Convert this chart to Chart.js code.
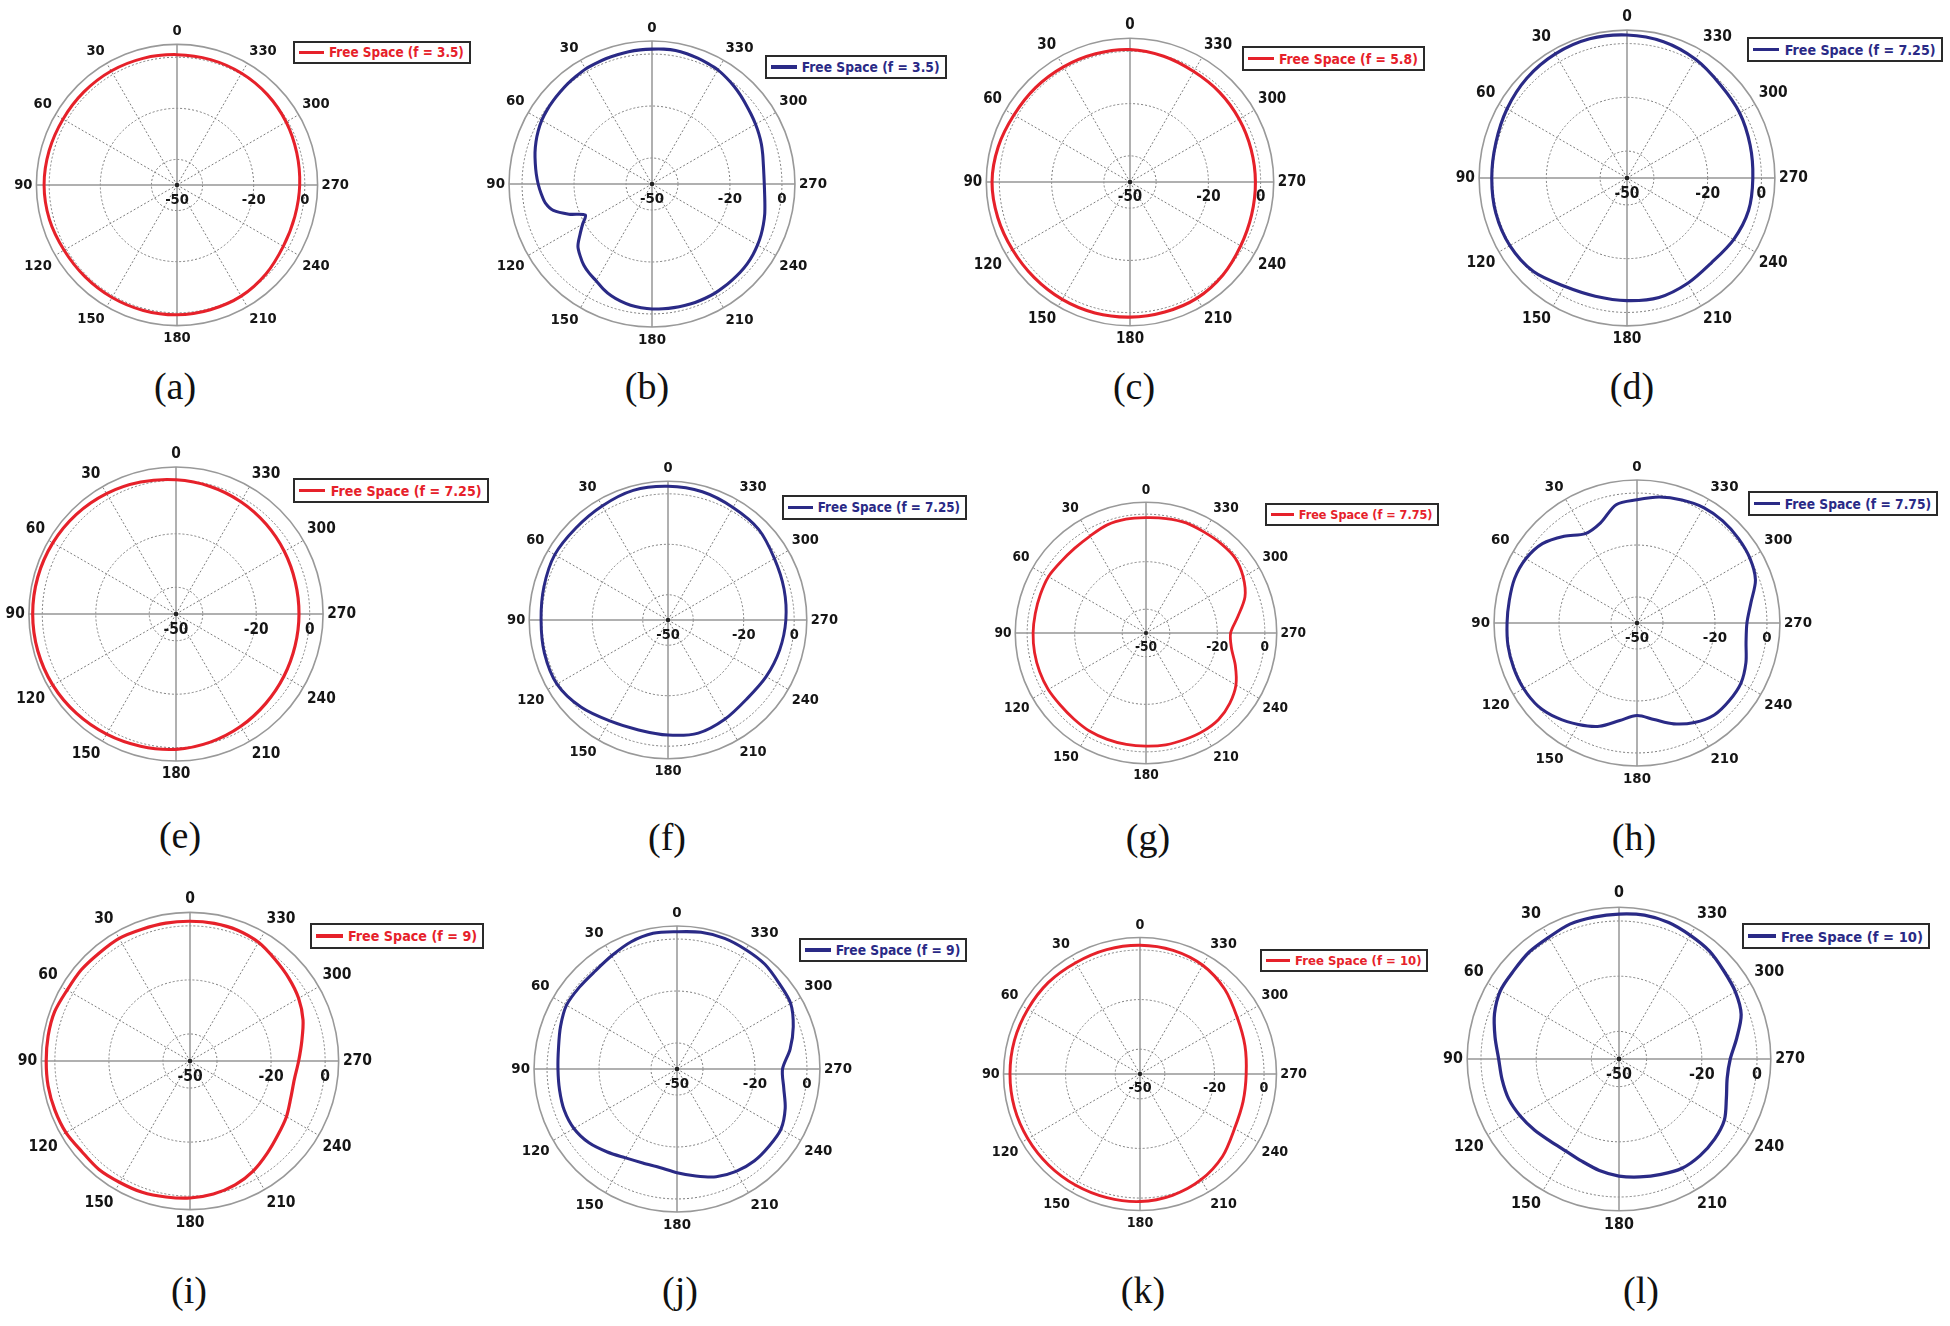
<!DOCTYPE html>
<html>
<head>
<meta charset="utf-8">
<script src="https://cdn.jsdelivr.net/npm/chart.js@4.4.1/dist/chart.umd.min.js"></script>
<style>
  html, body { margin: 0; padding: 0; background: #fff; }
  #page { position: relative; width: 1950px; height: 1326px; overflow: hidden; background: #fff; }
  .plot { position: absolute; }
  .plot canvas { display: block; }
  .legend {
    position: absolute; display: flex; align-items: center; box-sizing: border-box;
    border: 2px solid #2a2a2a; background: #fff; white-space: nowrap;
    font-family: "DejaVu Sans Condensed", "DejaVu Sans", sans-serif; font-weight: bold;
  }
  .legend .swatch { display: inline-block; }
  .caption {
    position: absolute; transform: translateX(-50%); line-height: 1;
    font-family: "Liberation Serif", "Times New Roman", serif; font-size: 38px; color: #111;
  }
</style>
</head>
<body>
<div id="page"></div>
<script>
// === DATA ===
// angles are counter-clockwise from the top (0 up, 90 left, 180 down, 270 right)
const angles15 = [0, 15, 30, 45, 60, 75, 90, 105, 120, 135, 150, 165, 180, 195, 210, 225, 240, 255, 270, 285, 300, 315, 330, 345];
const angles10 = [0, 10, 20, 30, 40, 50, 60, 70, 80, 90, 100, 110, 120, 130, 140, 150, 160, 170,
                  180, 190, 200, 210, 220, 230, 240, 250, 260, 270, 280, 290, 300, 310, 320, 330, 340, 350];
const angles5 = [0, 5, 10, 15, 20, 25, 30, 35, 40, 45, 50, 55, 60, 65, 70, 75, 80, 85, 90, 95, 100, 105, 110, 115,
                 120, 125, 130, 135, 140, 145, 150, 155, 160, 165, 170, 175, 180, 185, 190, 195, 200, 205, 210, 215,
                 220, 225, 230, 235, 240, 245, 250, 255, 260, 265, 270, 275, 280, 285, 290, 295, 300, 305, 310, 315,
                 320, 325, 330, 335, 340, 345, 350, 355];

// radial scale (dB) and the rings / labels drawn on it
const ringValues = [-50, -40, -20, 0, 5];
const dbLabels = [-50, -20, 0];

// gain in dB
const gainA = [1, 1.3, 1.5, 1.5, 1.5, 1.8, 2, 1.7, 1, 0.8, 0.8, 0.8, 0.8, 0.5, 0.2, -0.8, -2, -2.3, -2, -1.5, -0.7, 0, 0.5, 0.8];
const gainB = [1.9, 1.8, 1.7, 1.5, 1.4, 1.2, 1.1, 0.7, 0.4, 0, -0.3, -0.6, -1, -1.7, -2.5, -3.4, -4.4, -5.3, -6.2, -7.2,
               -8.3, -10.7, -16, -21.7, -19.2, -16.2, -12.8, -10.9, -9.2, -8, -7, -5.5, -4.2, -3.3, -2.6, -2.2, -1.9, -1.8, -1.7, -1.6,
               -1.5, -1.5, -1.5, -1.7, -1.9, -2, -2.2, -2.6, -3.1, -3.7, -4.4, -5.1, -5.9, -6.5, -6.8, -6.8, -6.5, -5.9, -5.2, -4.6,
               -4, -3.4, -2.7, -1.8, -0.9, -0.1, 0.7, 1.1, 1.5, 1.9, 2.2, 2.1];
const gainC = [0.7, 0.8, 0.9, 1.1, 1.3, 2.2, 2.8, 2.4, 1.9, 1.8, 1.9, 1.9, 1.7, 1.5, 1.3, 0.3, -1.1, -1.8, -2, -2, -1.8, -1.5, -1.2, -0.2];
const gainD = [3.2, 3.6, 3.3, 2.6, 1.5, 0.5, 0.3, 0.5, 0.3, -0.8, -3.5, -4.5, -4.4, -4, -4.8, -5.5, -4.2, -3.2, -3.2, -2.6, -1.6, -0.9, 1, 2.5];
const gainE = [0.2, 1.1, 2, 2.7, 3.2, 3.5, 3.6, 3.5, 3.2, 2.6, 1.9, 1.2, 0.6, -0.4, -1.5, -2.6, -3.4, -3.9, -4, -3.8, -3.2, -2.4, -1.5, -0.6];
const gainF = [3, 3.2, 2.2, 1.6, 1.8, 0.9, 0.3, 0.7, 0.8, -1.2, -3.8, -4.9, -4.4, -3.6, -4.7, -5.8, -5.1, -4.2, -3.3, -2.4, -1.3, 0.8, 1.5, 2.6];
const gainG = [-1.5, -1.4, -1.7, -2.9, -3.4, -3.3, -2.6, -2.7, -2.7, -2.5, -2.4, -2.4, -2.5, -2.9, -2.8, -2.4, -2.4, -2.4,
               -2.4, -2.2, -2.3, -2.2, -2.5, -4, -6.3, -10, -13.5, -14.4, -10.8, -5.7, -2.8, -1, -0.9, -1, -0.7, -1.1];
const gainH = [-2.6, -3.8, -9, -10.3, -6.4, -2.5, -0.6, 0.1, -0.1, 0, 0.4, 0.5, 0.4, -0.3, -2.3, -4.9, -7.7, -11.9,
               -14.4, -12.3, -8.7, -5.8, -3.8, -3.6, -3.8, -5.4, -7.4, -7.7, -5.5, -1.5, 0.1, 0.8, 1.3, 1.3, 0.4, -0.8];
const gainI = [1.7, 1.8, 1.9, 2.4, 2.2, 2.5, 2.5, 3.3, 3.3, 3.2, 3.3, 3.2, 3, 2.2, 2.4, 1.9, 1.7, 1.1,
               0.7, 0, -1.2, -3.1, -5.5, -7.5, -8.8, -10.3, -10.8, -9.8, -8, -5.5, -3.6, -2.3, -1, 0.7, 1.5, 1.7];
const gainJ = [2.8, 3, 2, 0.3, -0.9, -1, -0.9, -2.3, -3.7, -4.2, -4.1, -3.8, -4.2, -5.8, -8.3, -10.5, -11.5, -11.5,
               -10.1, -8.2, -5.9, -4.5, -3.8, -3.8, -3.8, -5.7, -8.3, -9.4, -5.8, -2.4, 0.5, 1.3, 2.6, 3, 3.5, 3.4];
const gainK = [1.9, 1.9, 1.8, 2.2, 2.2, 2.4, 2.4, 2.4, 2.2, 2, 1.8, 1.6, 1.4, 0.6, -0.8, -3, -6, -7, -7.2, -6.2, -4.7, -1.7, 0.6, 1.6];
const gainL = [2.5, 2.2, 2, 0.9, 0.6, -0.2, -0.4, -2, -4.4, -6.4, -7, -7.5, -8.7, -10, -11.2, -11.5, -10.6, -9,
               -7.6, -6.6, -5.5, -4.3, -4.3, -4.8, -5.9, -8.6, -10.2, -9.7, -6.7, -2.9, -1.3, -0.4, 1, 1.7, 2.6, 2.9];

const RED = '#e6212a';
const BLUE = '#2a2a86';
const FONT = '"DejaVu Sans Condensed", "DejaVu Sans", sans-serif';
const MAIN_AXES = ['0', '90', '180', '270'];

// === LAYOUT (centre, outer radius, legend box, caption) ===
const panels = [
  { tag: '(a)', angles: angles15, gain: gainA, color: RED,  f: '3.5',  cx: 176.7,  cy: 185,    R: 140,   leg: [293, 41, 23],   cap: [175, 390] },
  { tag: '(b)', angles: angles5,  gain: gainB, color: BLUE, f: '3.5',  cx: 651.7,  cy: 184.3,  R: 143,   leg: [765, 55, 24],   cap: [647, 390] },
  { tag: '(c)', angles: angles15, gain: gainC, color: RED,  f: '5.8',  cx: 1130.3, cy: 182,    R: 144,   leg: [1242, 46, 25],  cap: [1134, 390] },
  { tag: '(d)', angles: angles15, gain: gainD, color: BLUE, f: '7.25', cx: 1627.3, cy: 177.7,  R: 147.5, leg: [1747, 37, 25],  cap: [1632, 390] },
  { tag: '(e)', angles: angles15, gain: gainE, color: RED,  f: '7.25', cx: 176,    cy: 614,    R: 147,   leg: [293, 478, 25],  cap: [180, 839] },
  { tag: '(f)', angles: angles15, gain: gainF, color: BLUE, f: '7.25', cx: 667.7,  cy: 620,    R: 139,   leg: [782, 495, 25],  cap: [667, 841] },
  { tag: '(g)', angles: angles10, gain: gainG, color: RED,  f: '7.75', cx: 1145.7, cy: 632.7,  R: 130.8, leg: [1265, 503, 23], cap: [1148, 841] },
  { tag: '(h)', angles: angles10, gain: gainH, color: BLUE, f: '7.75', cx: 1636.7, cy: 622.7,  R: 143,   leg: [1748, 491, 25], cap: [1634, 841] },
  { tag: '(i)', angles: angles10, gain: gainI, color: RED,  f: '9',    cx: 190,    cy: 1061,   R: 148.3, leg: [310, 923, 26],  cap: [189, 1294] },
  { tag: '(j)', angles: angles10, gain: gainJ, color: BLUE, f: '9',    cx: 676.7,  cy: 1069,   R: 143,   leg: [799, 938, 24],  cap: [680, 1294] },
  { tag: '(k)', angles: angles15, gain: gainK, color: RED,  f: '10',   cx: 1140,   cy: 1073.7, R: 136.3, leg: [1260, 949, 23], cap: [1143, 1294] },
  { tag: '(l)', angles: angles10, gain: gainL, color: BLUE, f: '10',   cx: 1619,   cy: 1058.7, R: 152.3, leg: [1742, 923, 26], cap: [1641, 1294] }
];

// dB labels along the 270 axis and the centre dot
const radialText = {
  id: 'radialText',
  beforeDatasetsDraw(chart, args, opts) {
    const s = chart.scales.r;
    const ctx = chart.ctx;
    const k = opts.k || 1;
    ctx.save();
    ctx.font = 'bold ' + (14.6 * k).toFixed(1) + 'px ' + FONT;
    ctx.fillStyle = '#151515';
    ctx.textAlign = 'center';
    ctx.textBaseline = 'middle';
    dbLabels.forEach(v => {
      ctx.fillText(String(v), s.xCenter + s.getDistanceFromCenterForValue(v), s.yCenter + 15 * k);
    });
    ctx.beginPath();
    ctx.arc(s.xCenter, s.yCenter, 2.2 * k, 0, Math.PI * 2);
    ctx.fillStyle = '#222';
    ctx.fill();
    ctx.restore();
  }
};

function buildConfig(p, k) {
  const n = p.angles.length;
  // radar goes clockwise, the plot counts counter-clockwise
  const labels = p.angles.map((a, i) => p.angles[(n - i) % n]);
  const values = p.gain.map((g, i) => p.gain[(n - i) % n]);
  const isOuter = c => c.tick && c.tick.value === 5;
  return {
    type: 'radar',
    data: {
      labels: labels,
      datasets: [{
        label: 'Free Space (f = ' + p.f + ')',
        data: values,
        borderColor: p.color,
        borderWidth: 3 * k,
        pointRadius: 0,
        fill: false,
        tension: 0.3
      }]
    },
    options: {
      responsive: false,
      animation: false,
      events: [],
      layout: { padding: 0 },
      plugins: { legend: { display: false }, tooltip: { enabled: false }, radialText: { k: k } },
      scales: {
        r: {
          min: -50,
          max: 5,
          afterBuildTicks: s => { s.ticks = ringValues.map(v => ({ value: v })); },
          ticks: { display: false },
          grid: {
            circular: true,
            color: c => isOuter(c) ? '#999' : '#7d7d7d',
            lineWidth: c => isOuter(c) ? 1.6 : 1,
            borderDash: c => isOuter(c) ? [] : [2, 2]
          },
          border: { dash: c => isOuter(c) ? [] : [2, 2] },
          angleLines: {
            color: c => MAIN_AXES.includes(c.label) ? '#969696' : '#7d7d7d',
            lineWidth: c => c.label === '' ? 0 : (MAIN_AXES.includes(c.label) ? 1.5 : 1),
            borderDash: c => MAIN_AXES.includes(c.label) ? [] : [2, 2]
          },
          pointLabels: {
            callback: v => (v % 30 === 0 ? String(v) : ''),
            font: { family: FONT, size: +(14.6 * k).toFixed(1), weight: 'bold' },
            color: '#151515',
            padding: 4 * k
          }
        }
      }
    },
    plugins: [radialText]
  };
}

const page = document.getElementById('page');

function placePanel(p) {
  const k = p.R / 140;
  const box = document.createElement('div');
  box.className = 'plot';
  page.appendChild(box);

  // size the canvas so the scale's outer ring gets radius R
  let size = Math.round(2 * p.R + 90 * k);
  let chart = null;
  for (let t = 0; t < 3; t++) {
    if (chart) { chart.destroy(); box.innerHTML = ''; }
    const canvas = document.createElement('canvas');
    canvas.width = size;
    canvas.height = size;
    box.appendChild(canvas);
    chart = new Chart(canvas, buildConfig(p, k));
    const diff = p.R - chart.scales.r.drawingArea;
    if (Math.abs(diff) < 0.75) break;
    size = Math.round(size + 2 * diff);
  }
  const s = chart.scales.r;
  box.style.left = (p.cx - s.xCenter) + 'px';
  box.style.top = (p.cy - s.yCenter) + 'px';

  // legend box
  const leg = document.createElement('div');
  leg.className = 'legend';
  leg.style.left = p.leg[0] + 'px';
  leg.style.top = p.leg[1] + 'px';
  leg.style.height = p.leg[2] + 'px';
  leg.style.padding = '0 ' + (5 * k).toFixed(1) + 'px 0 ' + (4 * k).toFixed(1) + 'px';
  leg.style.fontSize = (13.4 * k).toFixed(1) + 'px';
  leg.style.color = p.color;
  const sw = document.createElement('span');
  sw.className = 'swatch';
  sw.style.width = (25 * k).toFixed(1) + 'px';
  sw.style.height = (3.2 * k).toFixed(1) + 'px';
  sw.style.background = p.color;
  sw.style.marginRight = (5 * k).toFixed(1) + 'px';
  const txt = document.createElement('span');
  txt.textContent = chart.data.datasets[0].label;
  leg.appendChild(sw);
  leg.appendChild(txt);
  page.appendChild(leg);

  // caption
  const cap = document.createElement('div');
  cap.className = 'caption';
  cap.textContent = p.tag;
  cap.style.left = p.cap[0] + 'px';
  cap.style.top = (p.cap[1] - 23) + 'px';
  page.appendChild(cap);
}

panels.forEach(placePanel);
</script>
</body>
</html>
